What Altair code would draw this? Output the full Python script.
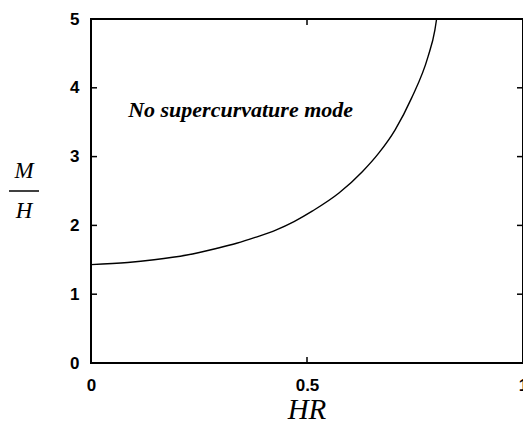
import altair as alt
import pandas as pd

# Curve
hr = [0.0, 0.085, 0.146, 0.222, 0.29, 0.337, 0.38, 0.429, 0.47, 0.513,
      0.574, 0.628, 0.666, 0.704, 0.742, 0.78, 0.796, 0.80]
mh = [1.43, 1.46, 1.50, 1.57, 1.665, 1.74, 1.825, 1.935, 2.055, 2.21,
      2.47, 2.78, 3.05, 3.39, 3.85, 4.45, 4.84, 5.0]

x_ticks = [0, 0.5, 1]
y_ticks = [0, 1, 2, 3, 4, 5]
x_inner_ticks = [0.5]
y_inner_ticks = [1, 2, 3, 4]

annotation = "No supercurvature mode"
annot_x = [0.086]
annot_y = [3.58]
x_title = "HR"
y_title_num = "M"
y_title_den = "H"

W, H = 432, 344

curve_df = pd.DataFrame({"HR": hr, "MH": mh})
xt_df = pd.DataFrame({"v": x_inner_ticks})
yt_df = pd.DataFrame({"v": y_inner_ticks})
ann_df = pd.DataFrame({"x": annot_x, "y": annot_y, "t": [annotation]})
one = pd.DataFrame({"a": [0]})

xscale = alt.Scale(domain=[0, 1], nice=False, zero=False)
yscale = alt.Scale(domain=[0, 5], nice=False)

axis_common = dict(domain=False, ticks=False, grid=False, title=None,
                   labelFont="Liberation Sans", labelFontWeight="bold",
                   labelFontSize=17, labelColor="black", labelFlush=False)

curve = alt.Chart(curve_df).mark_line(
    color="black", strokeWidth=1.4, interpolate="monotone"
).encode(
    x=alt.X("HR:Q", scale=xscale,
            axis=alt.Axis(values=x_ticks, format="~g", labelPadding=14, **axis_common)),
    y=alt.Y("MH:Q", scale=yscale,
            axis=alt.Axis(values=y_ticks, format="~g", labelPadding=12, **axis_common)),
)

tick_style = dict(color="black", strokeWidth=1.5)
left_ticks = alt.Chart(yt_df).mark_rule(**tick_style).encode(
    y=alt.Y("v:Q", scale=yscale), x=alt.value(0), x2=alt.value(6))
right_ticks = alt.Chart(yt_df).mark_rule(**tick_style).encode(
    y=alt.Y("v:Q", scale=yscale), x=alt.value(W - 6), x2=alt.value(W))
bottom_ticks = alt.Chart(xt_df).mark_rule(**tick_style).encode(
    x=alt.X("v:Q", scale=xscale), y=alt.value(H), y2=alt.value(H - 6))
top_ticks = alt.Chart(xt_df).mark_rule(**tick_style).encode(
    x=alt.X("v:Q", scale=xscale), y=alt.value(0), y2=alt.value(6))

ann = alt.Chart(ann_df).mark_text(
    font="Liberation Serif", fontStyle="italic", fontWeight="bold",
    fontSize=22, align="left", baseline="alphabetic", color="black"
).encode(x=alt.X("x:Q", scale=xscale), y=alt.Y("y:Q", scale=yscale), text="t:N")

xt = alt.Chart(one).mark_text(
    font="Liberation Serif", fontStyle="italic", fontSize=29,
    align="center", baseline="alphabetic", color="black"
).encode(x=alt.value(W / 2), y=alt.value(400), text=alt.value(x_title))

ynum = alt.Chart(one).mark_text(
    font="Liberation Serif", fontStyle="italic", fontSize=23,
    align="center", baseline="alphabetic", color="black"
).encode(x=alt.value(-67), y=alt.value(159), text=alt.value(y_title_num))
yden = alt.Chart(one).mark_text(
    font="Liberation Serif", fontStyle="italic", fontSize=23,
    align="center", baseline="alphabetic", color="black"
).encode(x=alt.value(-67), y=alt.value(199), text=alt.value(y_title_den))
ybar = alt.Chart(one).mark_rule(color="black", strokeWidth=1.5).encode(
    x=alt.value(-82), x2=alt.value(-52), y=alt.value(172))

chart = alt.layer(
    curve, left_ticks, right_ticks, bottom_ticks, top_ticks, ann, xt, ynum, yden, ybar
).properties(
    width=W, height=H,
    autosize=alt.AutoSizeParams(type="none"),
    padding={"left": 83, "top": 11, "right": 0, "bottom": 57},
).configure(
    background="white",
    view=alt.ViewConfig(stroke="black", strokeWidth=2),
)

chart.save("out.html", embed_options={"renderer": "svg", "actions": False})
